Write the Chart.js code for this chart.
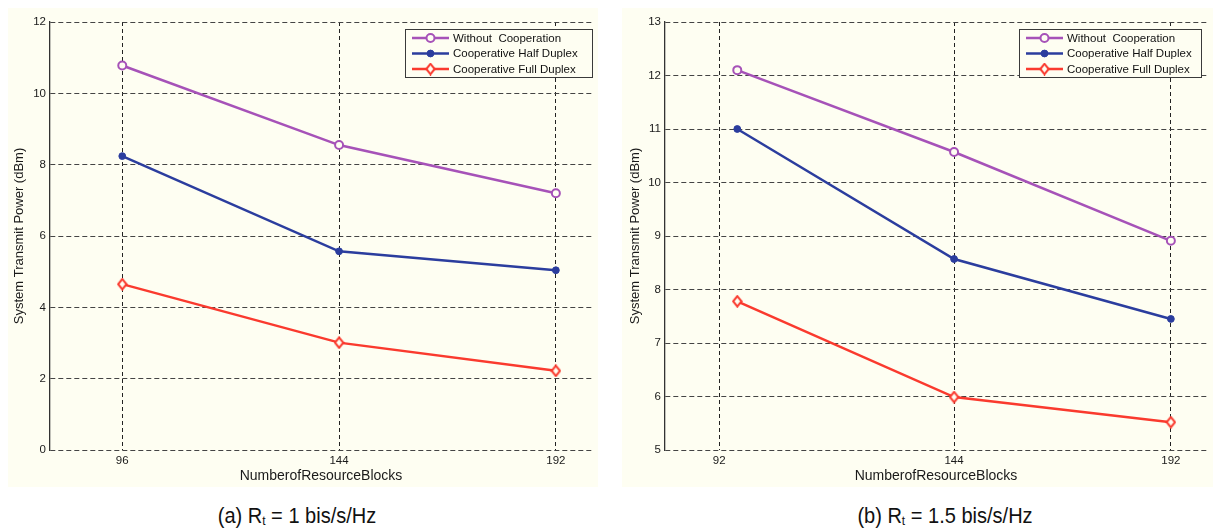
<!DOCTYPE html>
<html>
<head>
<meta charset="utf-8">
<script src="https://cdn.jsdelivr.net/npm/chart.js@4.4.1/dist/chart.umd.min.js"></script>
<style>
  html, body { margin: 0; padding: 0; background: #ffffff; width: 1215px; height: 530px; overflow: hidden;
    font-family: "Liberation Sans", Arial, sans-serif; }
  canvas { position: absolute; background: #fefef2; }
  #panelA { left: 8px; top: 8px; }
  #panelB { left: 622px; top: 8px; }
  .caption { position: absolute; top: 503px; font-size: 22px; color: #111; white-space: nowrap;
    transform: translateX(-50%) scaleX(0.91); transform-origin: center; }
  .caption sub { font-size: 0.6em; vertical-align: -0.12em; }
</style>
</head>
<body>
<canvas id="panelA" width="590" height="479"></canvas>
<canvas id="panelB" width="591" height="479"></canvas>
<div class="caption" style="left:297px">(a) R<sub>t</sub> = 1 bis/s/Hz</div>
<div class="caption" style="left:945px">(b) R<sub>t</sub> = 1.5 bis/s/Hz</div>

<script>
// Number of resource blocks at which each scheme was evaluated
const resourceBlocks = [96, 144, 192];

// Tick labels along the x axis of each panel
const xTicksA = [96, 144, 192];
const xTicksB = [92, 144, 192];

const seriesNames = ['Without  Cooperation', 'Cooperative Half Duplex', 'Cooperative Full Duplex'];

// System transmit power (dBm), panel (a): Rt = 1 bit/s/Hz
const withoutCoopA = [10.78, 8.55, 7.20];
const halfDuplexA  = [8.24, 5.57, 5.04];
const fullDuplexA  = [4.65, 3.01, 2.22];

// System transmit power (dBm), panel (b): Rt = 1.5 bit/s/Hz
const withoutCoopB = [12.10, 10.57, 8.91];
const halfDuplexB  = [11.00, 8.57, 7.45];
const fullDuplexB  = [7.78, 5.99, 5.52];

const BG = '#fefef2';
const PURPLE = '#a652b8';
const BLUE = '#2b3d9e';
const RED = '#fa3a2e';
const FONT = '"Liberation Sans", Arial, sans-serif';

Chart.defaults.font.family = FONT;
Chart.defaults.color = '#1a1a1a';

// Hollow diamond marker, slightly taller than wide
function diamondMarker(color) {
  const c = document.createElement('canvas');
  c.width = 11; c.height = 13;
  const g = c.getContext('2d');
  g.beginPath();
  g.moveTo(5.5, 1.3); g.lineTo(9.7, 6.5); g.lineTo(5.5, 11.7); g.lineTo(1.3, 6.5);
  g.closePath();
  g.fillStyle = BG; g.fill();
  g.lineWidth = 2; g.strokeStyle = color; g.stroke();
  return c;
}
const diamondRed = diamondMarker(RED);

// Boxed legend in the upper-right corner of the plot area
const boxLegend = {
  id: 'boxLegend',
  afterDatasetsDraw(chart, args, o) {
    const ctx = chart.ctx, ca = chart.chartArea;
    const x0 = Math.round(ca.right - o.right - o.width), y0 = Math.round(ca.top + o.top);
    ctx.save();
    ctx.fillStyle = BG;
    ctx.fillRect(x0, y0, o.width, o.height);
    ctx.strokeStyle = '#3a3a3a'; ctx.lineWidth = 1;
    ctx.strokeRect(x0 + 0.5, y0 + 0.5, o.width, o.height);
    ctx.font = '11.5px ' + FONT;
    ctx.textBaseline = 'middle';
    chart.data.datasets.forEach((ds, i) => {
      const y = y0 + o.rowTop + i * o.rowGap;
      const lx = x0 + o.padLeft;
      ctx.strokeStyle = ds.borderColor; ctx.lineWidth = ds.borderWidth;
      ctx.beginPath(); ctx.moveTo(lx, y); ctx.lineTo(lx + o.lineLen, y); ctx.stroke();
      const mx = lx + o.lineLen / 2;
      if (ds.pointStyle instanceof HTMLCanvasElement) {
        ctx.drawImage(ds.pointStyle, mx - ds.pointStyle.width / 2, y - ds.pointStyle.height / 2);
      } else {
        ctx.beginPath(); ctx.arc(mx, y, ds.pointRadius, 0, Math.PI * 2);
        ctx.fillStyle = ds.pointBackgroundColor; ctx.fill();
        ctx.lineWidth = ds.pointBorderWidth; ctx.strokeStyle = ds.borderColor; ctx.stroke();
      }
      ctx.fillStyle = '#111';
      ctx.fillText(ds.label, lx + o.lineLen + o.gap, y + 0.5);
    });
    ctx.restore();
  }
};

function series(label, values, color, kind) {
  const ds = {
    label: label,
    data: resourceBlocks.map((x, i) => ({ x: x, y: values[i] })),
    borderColor: color,
    borderWidth: 2.5,
    tension: 0,
    fill: false
  };
  if (kind === 'open') {
    Object.assign(ds, { pointStyle: 'circle', pointRadius: 4, pointBorderWidth: 2, pointBackgroundColor: BG, pointBorderColor: color });
  } else if (kind === 'dot') {
    Object.assign(ds, { pointStyle: 'circle', pointRadius: 3.4, pointBorderWidth: 1, pointBackgroundColor: color, pointBorderColor: color });
  } else {
    Object.assign(ds, { pointStyle: diamondRed, pointRadius: 5, pointBorderWidth: 0, pointBackgroundColor: BG });
  }
  return ds;
}

function makePanel(id, values, yMin, yMax, yStep, xTicks, axisWidth, yTitlePad, legendRight, legendWidth) {
  return new Chart(document.getElementById(id), {
    type: 'line',
    data: {
      datasets: [
        series(seriesNames[0], values[0], PURPLE, 'open'),
        series(seriesNames[1], values[1], BLUE, 'dot'),
        series(seriesNames[2], values[2], RED, 'diamond')
      ]
    },
    plugins: [boxLegend],
    options: {
      responsive: false,
      animation: false,
      devicePixelRatio: 1,
      layout: { padding: { left: 0, top: 14, right: 5, bottom: 0 } },
      plugins: {
        legend: { display: false },
        tooltip: { enabled: false },
        boxLegend: { right: legendRight, top: 7, width: legendWidth, height: 48,
          rowTop: 9, rowGap: 15.5, padLeft: 7, lineLen: 37, gap: 4 }
      },
      scales: {
        x: {
          type: 'linear',
          min: 80, max: 200,
          afterBuildTicks: s => { s.ticks = xTicks.map(v => ({ value: v })); },
          afterFit: s => { s.height = 37; },
          ticks: { font: { size: 11.5 }, padding: 4, color: '#1a1a1a', autoSkip: false },
          grid: { color: '#222', lineWidth: 1, drawTicks: false },
          border: { display: false, dash: [4, 3] },
          title: { display: true, text: 'NumberofResourceBlocks', font: { size: 14 }, color: '#1a1a1a',
            padding: { top: 0, bottom: 2.6 } }
        },
        y: {
          min: yMin, max: yMax,
          afterFit: s => { s.width = axisWidth; },
          ticks: { stepSize: yStep, font: { size: 11.5 }, padding: 4, color: '#1a1a1a' },
          grid: { color: '#444', lineWidth: 1, drawTicks: false },
          border: { display: true, color: '#333', width: 1.3, dash: [5, 3] },
          title: { display: true, text: 'System Transmit Power (dBm)', font: { size: 13 }, color: '#1a1a1a',
            padding: { top: yTitlePad, bottom: 0 } }
        }
      }
    }
  });
}

makePanel('panelA', [withoutCoopA, halfDuplexA, fullDuplexA], 0, 12, 2, xTicksA, 42, 3.2, 0, 187);
makePanel('panelB', [withoutCoopB, halfDuplexB, fullDuplexB], 5, 13, 1, xTicksB, 43, 5.2, 6, 182);
</script>
</body>
</html>
